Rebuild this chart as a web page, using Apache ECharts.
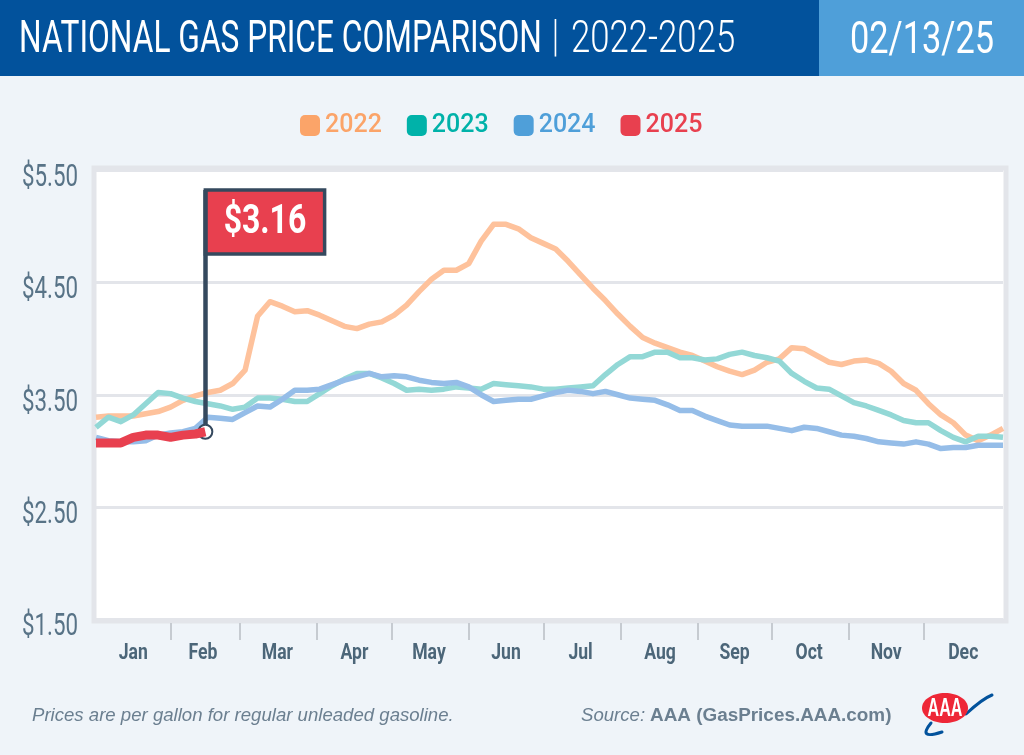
<!DOCTYPE html>
<html>
<head>
<meta charset="utf-8">
<title>National Gas Price Comparison</title>
<script src="https://cdn.jsdelivr.net/npm/echarts@6/dist/echarts.min.js"></script>
<style>
  html, body { margin: 0; padding: 0; background: #eff4f9; }
  #chart { width: 1024px; height: 755px; }
</style>
</head>
<body>
<div id="chart"></div>
<script>
// day of year for every sampled price (read every 5 days off the picture)
var days = [0,5,10,15,20,25,30,35,40,45,50,55,60,65,70,75,80,85,90,95,100,105,110,115,120,125,130,135,140,145,150,155,160,165,170,175,180,185,190,195,200,205,210,215,220,225,230,235,240,245,250,255,260,265,270,275,280,285,290,295,300,305,310,315,320,325,330,335,340,345,350,355,360,365];
var days2025 = [0,5,10,15,20,25,30,35,40,44];

var prices2022 = [3.30,3.31,3.31,3.31,3.33,3.35,3.39,3.45,3.49,3.52,3.54,3.60,3.72,4.20,4.33,4.29,4.24,4.25,4.21,4.16,4.11,4.09,4.13,4.15,4.21,4.30,4.42,4.53,4.61,4.61,4.67,4.87,5.02,5.02,4.98,4.90,4.85,4.80,4.69,4.57,4.45,4.34,4.22,4.11,4.01,3.96,3.92,3.88,3.85,3.80,3.75,3.71,3.68,3.72,3.79,3.82,3.92,3.91,3.85,3.79,3.77,3.80,3.81,3.78,3.71,3.60,3.54,3.42,3.32,3.25,3.14,3.09,3.14,3.20];
var prices2023 = [3.21,3.30,3.26,3.32,3.42,3.52,3.51,3.47,3.44,3.42,3.40,3.37,3.39,3.47,3.47,3.46,3.44,3.44,3.51,3.58,3.64,3.69,3.69,3.65,3.60,3.54,3.55,3.54,3.55,3.57,3.56,3.55,3.60,3.59,3.58,3.57,3.55,3.55,3.56,3.57,3.58,3.68,3.77,3.84,3.84,3.88,3.88,3.83,3.83,3.81,3.82,3.86,3.88,3.85,3.83,3.80,3.69,3.62,3.56,3.55,3.49,3.43,3.40,3.36,3.32,3.27,3.25,3.25,3.18,3.12,3.08,3.13,3.13,3.12];
var prices2024 = [3.12,3.09,3.08,3.08,3.09,3.14,3.16,3.17,3.20,3.30,3.29,3.28,3.34,3.40,3.39,3.46,3.54,3.54,3.55,3.59,3.63,3.66,3.69,3.66,3.67,3.66,3.63,3.61,3.60,3.61,3.57,3.50,3.44,3.45,3.46,3.46,3.49,3.52,3.54,3.53,3.51,3.53,3.50,3.47,3.46,3.45,3.41,3.36,3.36,3.31,3.27,3.23,3.22,3.22,3.22,3.20,3.18,3.21,3.20,3.17,3.14,3.13,3.11,3.08,3.07,3.06,3.08,3.06,3.02,3.03,3.03,3.05,3.05,3.05];
var prices2025 = [3.07,3.07,3.07,3.12,3.14,3.14,3.12,3.14,3.15,3.17];

var yTicks = [1.5,2.5,3.5,4.5,5.5];
var monthNames = ['Jan','Feb','Mar','Apr','May','Jun','Jul','Aug','Sep','Oct','Nov','Dec'];
var monthLabelDays = [15,43,73,104,134,165,195,227,257,287,318,349];
var monthTickDays = [30,58,89,119,150,180,211,242,272,303,333];
var latestLabel = '$3.16';
var latestDay = 44, latestPrice = 3.17;
var flagRight = 92, flagTop = 5.326, flagBottom = 4.756;

function zip(xs, ys) {
    return xs.map(function (x, i) { return [x, ys[i]]; });
}

function priceLine(name, color, values) {
    return {
        name: name,
        type: 'line',
        data: zip(days, values),
        showSymbol: false,
        silent: true,
        lineStyle: { color: color, width: 5.5, join: 'round' },
        itemStyle: { color: color }
    };
}

var myChart = echarts.init(document.getElementById('chart'));

var option = {
    animation: false,
    backgroundColor: '#eff4f9',
    grid: { left: 96, right: 21, top: 170.5, height: 448.5 },
    legend: {
        left: 295,
        top: 108,
        icon: 'roundRect',
        itemWidth: 20,
        itemHeight: 21,
        itemGap: 25,
        selectedMode: false,
        textStyle: { fontFamily: 'Roboto', fontSize: 25, fontWeight: 500, padding: [0, 0, 0, 0] },
        data: [
            { name: '2022', itemStyle: { color: '#fba469' }, textStyle: { color: '#fba469' } },
            { name: '2023', itemStyle: { color: '#00b2a9' }, textStyle: { color: '#00b2a9' } },
            { name: '2024', itemStyle: { color: '#4f9fd9' }, textStyle: { color: '#4f9fd9' } },
            { name: '2025', itemStyle: { color: '#e8404f' }, textStyle: { color: '#e8404f' } }
        ]
    },
    xAxis: {
        type: 'value',
        min: 0,
        max: 365,
        offset: 4,
        splitLine: { show: false },
        axisLine: { show: false },
        axisTick: {
            customValues: monthTickDays,
            length: 17,
            lineStyle: { color: '#c6cbd1', width: 2 }
        },
        axisLabel: { show: false }
    },
    yAxis: {
        type: 'value',
        min: 1.5,
        max: 5.5,
        axisLine: { show: false },
        axisTick: { show: false, customValues: yTicks },
        splitLine: { lineStyle: { color: '#e3e5ea', width: 3 } },
        axisLabel: { show: false }
    },
    series: [
        priceLine('2022', '#fec29c', prices2022),
        priceLine('2023', '#93d8d6', prices2023),
        priceLine('2024', '#95bde8', prices2024),
        {
            name: '2025',
            type: 'line',
            z: 5,
            data: zip(days2025, prices2025),
            showSymbol: false,
            silent: true,
            lineStyle: { color: '#e8404f', width: 9, join: 'round' },
            itemStyle: { color: '#e8404f' },
            // flag: pole, banner and the ring on the latest price
            markLine: {
                silent: true,
                symbol: 'none',
                label: { show: false },
                lineStyle: { color: '#35495e', width: 4.5, type: 'solid' },
                data: [[{ xAxis: latestDay, yAxis: latestPrice }, { xAxis: latestDay, yAxis: flagTop }]]
            },
            markArea: {
                silent: true,
                itemStyle: { color: '#e8404f', borderColor: '#35495e', borderWidth: 3.5 },
                data: [[{ xAxis: latestDay, yAxis: flagTop }, { xAxis: flagRight, yAxis: flagBottom }]]
            },
            markPoint: {
                silent: true,
                symbol: 'circle',
                symbolSize: 14,
                label: { show: false },
                itemStyle: { color: '#fff', borderColor: '#35495e', borderWidth: 2 },
                data: [{ coord: [latestDay, latestPrice] }]
            }
        }
    ],
    graphic: [
        // page furniture
        { type: 'rect', z: -1, shape: { x: 0, y: 0, width: 819, height: 76 }, style: { fill: '#02529c' } },
        { type: 'rect', z: -1, shape: { x: 819, y: 0, width: 205, height: 76 }, style: { fill: '#4f9fd9' } },
        { type: 'rect', z: -1, shape: { x: 94, y: 168, width: 912, height: 453 }, style: { fill: '#fff', stroke: '#e3e5ea', lineWidth: 5 } },

        { type: 'text', z: 10, x: 19, y: 19, scaleX: 0.72, style: { text: 'NATIONAL GAS PRICE COMPARISON', fill: '#fff', font: '44px Roboto' } },
        { type: 'text', z: 10, x: 552, y: 18, scaleX: 0.7, style: { text: '|', fill: '#fff', font: '300 44px Roboto' } },
        { type: 'text', z: 10, x: 571, y: 19, scaleX: 0.79, style: { text: '2022-2025', fill: '#fff', font: '300 44px Roboto' } },
        { type: 'text', z: 10, x: 850, y: 20, scaleX: 0.78, style: { text: '02/13/25', fill: '#fff', font: '44px Roboto' } },

        { type: 'text', z: 10, x: 32, y: 706, style: { text: 'Prices are per gallon for regular unleaded gasoline.', fill: '#6b7f90', font: 'italic 18.6px "Liberation Sans"' } },
        { type: 'text', z: 10, x: 581, y: 706, style: { text: 'Source:', fill: '#6b7f90', font: 'italic 18.6px "Liberation Sans"' } },
        { type: 'text', z: 10, x: 650, y: 706, style: { text: 'AAA (GasPrices.AAA.com)', fill: '#6b7f90', font: 'bold 18.9px "Liberation Sans"' } },

        // AAA logo
        { type: 'bezierCurve', z: 10, shape: { x1: 966, y1: 714, x2: 992, y2: 695, cpx1: 982, cpy1: 699 }, style: { stroke: '#02529c', lineWidth: 3, fill: 'none', lineCap: 'round' } },
        { type: 'bezierCurve', z: 10, shape: { x1: 942, y1: 732, x2: 931, y2: 723, cpx1: 917, cpy1: 740 }, style: { stroke: '#02529c', lineWidth: 3, fill: 'none', lineCap: 'round' } },
        { type: 'ellipse', z: 10, shape: { cx: 945, cy: 708, rx: 23, ry: 15 }, style: { fill: '#ee2737' } },
        { type: 'text', z: 11, x: 945, y: 709, scaleX: 0.62, style: { text: 'AAA', fill: '#fff', font: 'bold 26px "Liberation Sans"', align: 'center', verticalAlign: 'middle' } }
    ]
};

myChart.setOption(option);

// the reference's labels are a tall condensed face, so they are squeezed text placed through the chart's scales
var tickTexts = [];
yTicks.forEach(function (v) {
    var y = myChart.convertToPixel({ yAxisIndex: 0 }, v);
    tickTexts.push({ type: 'text', z: 10, x: 78, y: y + 8, scaleX: 0.72, style: { text: '$' + v.toFixed(2), fill: '#587387', font: '31px Roboto', align: 'right', verticalAlign: 'middle' } });
});
monthNames.forEach(function (name, i) {
    var x = myChart.convertToPixel({ xAxisIndex: 0 }, monthLabelDays[i]);
    tickTexts.push({ type: 'text', z: 10, x: x, y: 653, scaleX: 0.8, style: { text: name, fill: '#4c6679', font: 'bold 22px Roboto', align: 'center', verticalAlign: 'middle' } });
});
var flagCorner = myChart.convertToPixel({ xAxisIndex: 0, yAxisIndex: 0 }, [(latestDay + flagRight) / 2, (flagTop + flagBottom) / 2]);
tickTexts.push({ type: 'text', z: 10, x: flagCorner[0], y: flagCorner[1] + 1, scaleX: 0.78, style: { text: latestLabel, fill: '#fff', font: 'bold 41px Roboto', align: 'center', verticalAlign: 'middle' } });

myChart.setOption({ graphic: option.graphic.concat(tickTexts) });
</script>
</body>
</html>
